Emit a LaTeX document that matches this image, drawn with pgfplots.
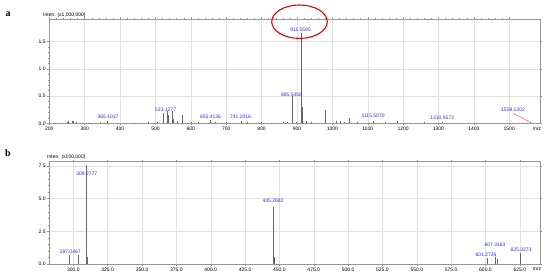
\documentclass[border=0pt]{standalone}
\usepackage{pgfplots}
\pgfplotsset{compat=1.18}
\usepackage{fontspec}
\setmainfont{Liberation Sans}
\newfontfamily\serifbold{Liberation Serif}
\definecolor{peakblue}{RGB}{45,45,235}
\definecolor{gridgray}{RGB}{225,225,225}
\definecolor{framegray}{RGB}{150,150,150}

\tikzset{
  lab/.style={font=\fontsize{5}{6}\selectfont, text=peakblue, inner sep=0pt},
  peak/.style={black!60, line width=0.45pt},
}
\pgfplotsset{
  msstyle/.style={
    scale only axis,
    anchor=south west,
    width=490.7pt,
    ymin=0,
    axis line style={framegray, line width=0.5pt},
    grid=major,
    major grid style={gridgray, line width=0.4pt},
    tick align=outside,
    major tick length=2pt,
    minor tick length=1.2pt,
    every tick/.style={framegray, line width=0.4pt},
    minor x tick num=4,
    minor y tick num=4,
    tick label style={font=\fontsize{5}{6}\selectfont, inner sep=1.5pt},
    /pgf/number format/assume math mode=true,
    /pgf/number format/1000 sep={},
    yticklabel style={/pgf/number format/fixed, /pgf/number format/fixed zerofill, /pgf/number format/precision=1},
  }
}

\begin{document}
\begin{tikzpicture}
\path[use as bounding box] (0,0) rectangle (550pt,-280pt);

% ---- panel a ----
\begin{axis}[msstyle,
    at={(49.3pt,-123.3pt)},
    height=104.3pt,
    xmin=200, xmax=1587,
    ymax=1.917,
    xtick={200,300,...,1500},
    ytick={0,0.5,1.0,1.5},
]
\addplot[ycomb, no marks, peak] coordinates {
 (250,0.03) (253,0.045) (264,0.05) (268,0.04) (275,0.02) (310,0.01) (345,0.015)
 (365.1037,0.05) (440,0.01) (480,0.015) (505,0.02) (521,0.19) (533.1277,0.22)
 (536,0.16) (547,0.22) (550,0.08) (563,0.05) (577,0.15) (600,0.03) (620,0.02)
 (655.4136,0.06) (670,0.02) (700,0.03) (741.2016,0.05) (760,0.02) (800,0.015)
 (860,0.02) (873,0.03) (885.5458,0.50) (886.55,0.20) (887.55,0.06) (899,0.03)
 (911.5595,1.66) (912.56,0.89) (913.56,0.30) (914.5,0.08) (927,0.04) (940,0.03)
 (979,0.24) (980,0.08) (1012,0.04) (1021,0.05) (1035,0.03) (1047,0.09)
 (1070,0.02) (1115.5070,0.05) (1150,0.015) (1184,0.04) (1261,0.03)
 (1310.9573,0.02) (1400,0.01) (1559.1302,0.015)
};
\node[lab] at (axis cs:365.8,0.121) {365.1037};
\node[lab] at (axis cs:528.8,0.257) {533.1277};
\node[lab] at (axis cs:655.9,0.121) {655.4136};
\node[lab] at (axis cs:740.7,0.116) {741.2016};
\node[lab] at (axis cs:884.7,0.533) {885.5458};
\node[lab] at (axis cs:910.2,1.728) {911.5595};
\node[lab] at (axis cs:1115.3,0.134) {1115.5070};
\node[lab] at (axis cs:1310.2,0.097) {1310.9573};
\node[lab] at (axis cs:1510.7,0.244) {1559.1302};
\draw[red!75, line width=0.4pt] (axis cs:1511,0.184) -- (axis cs:1559.13,0.02);
\end{axis}
\draw[red!90!black, line width=1.1pt] (299.5pt,-21.7pt) ellipse (27.8pt and 16.7pt);
\node[anchor=west, inner sep=0pt, font=\fontsize{5}{6}\selectfont] at (43pt,-15.7pt) {Inten. (x1,000,000)};
\node[inner sep=0pt, font=\fontsize{5}{6}\selectfont] at (537pt,-128.3pt) {m/z};
\node[inner sep=0pt, font=\serifbold\bfseries\fontsize{10}{12}\selectfont] at (8pt,-14pt) {a};

% ---- panel b ----
\begin{axis}[msstyle,
    at={(49.3pt,-264pt)},
    height=102.3pt,
    xmin=282.5, xmax=639.7,
    ymax=7.83,
    xtick={300,325,...,625},
    ytick={0,2.5,5.0,7.5},
    xticklabel style={/pgf/number format/fixed, /pgf/number format/fixed zerofill, /pgf/number format/precision=1},
]
\addplot[ycomb, no marks, peak] coordinates {
 (297.0467,0.69) (303.7,0.69) (309.2777,7.57) (310.28,0.56)
 (445.2692,4.38) (446.27,0.53) (601.2726,0.44) (607.3163,0.56)
 (608.32,0.35) (625.3273,0.82)
};
\node[lab] at (axis cs:297.7,0.94) {297.0467};
\node[lab] at (axis cs:309.8,6.94) {309.2777};
\node[lab] at (axis cs:445.4,4.84) {445.2692};
\node[lab] at (axis cs:600.4,0.69) {601.2726};
\node[lab] at (axis cs:607.0,1.45) {607.3163};
\node[lab] at (axis cs:625.9,1.07) {625.3273};
\end{axis}
\node[anchor=west, inner sep=0pt, font=\fontsize{5}{6}\selectfont] at (47pt,-157.3pt) {Inten. (x100,000)};
\node[inner sep=0pt, font=\fontsize{5}{6}\selectfont] at (537pt,-268.3pt) {m/z};
\node[inner sep=0pt, font=\serifbold\bfseries\fontsize{10}{12}\selectfont] at (8pt,-153pt) {b};
\end{tikzpicture}
\end{document}
